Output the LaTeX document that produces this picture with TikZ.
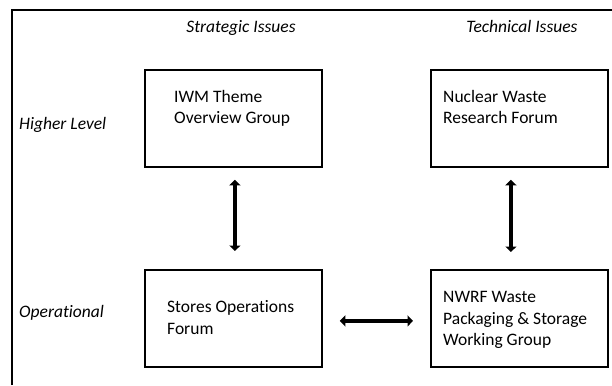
\documentclass[tikz,border=0pt]{standalone}
\usepackage{fontspec}
\setmainfont{Carlito}[RawFeature={-liga}]
\usetikzlibrary{arrows.meta}
\begin{document}
\begin{tikzpicture}[x=1pt,y=-1pt,
  box/.style={draw=black, line width=1.8pt, inner sep=0pt, anchor=north west, minimum width=177pt, minimum height=97pt},
  boxtext/.style={anchor=base west, align=left, inner sep=0pt, font=\fontsize{17.5pt}{21.5pt}\selectfont},
  lbl/.style={inner sep=0pt, font=\fontsize{17.5pt}{21.5pt}\selectfont\itshape},
  link/.style={line width=4.5pt, {Triangle[length=5.5pt,width=11pt]}-{Triangle[length=5.5pt,width=11pt]}}]
\useasboundingbox (0,0) rectangle (612,385);
\fill[white] (0,0) rectangle (612,385);
\draw[line width=1.8pt] (12,385) -- (12,10) -- (612,10);
\node[box] (iwm) at (144,69) {};
\node[box] (nwr) at (430,69) {};
\node[box] (sof) at (144,269) {};
\node[box] (nwf) at (430,269) {};
\node[boxtext] (iwmt) at (174,124) {IWM Theme\\Overview Group};
\node[boxtext] (nwrt) at (443,124) {Nuclear Waste\\Research Forum};
\node[boxtext] (soft) at (167,334) {Stores Operations\\Forum};
\node[boxtext] (nwft) at (443,345.5) {NWRF Waste\\Packaging \& Storage\\Working Group};
\node[lbl, anchor=base] (strat) at (241,32.5) {Strategic Issues};
\node[lbl, anchor=base] (tech) at (522,32.5) {Technical Issues};
\node[lbl, anchor=base west] (high) at (19,129) {Higher Level};
\node[lbl, anchor=base west] (oper) at (19,317.5) {Operational};
\draw[link, shorten <=12pt, shorten >=18pt] ([xshift=1.5pt]iwm.south) -- ([xshift=1.5pt]sof.north);
\draw[link, shorten <=12pt, shorten >=17pt] ([xshift=-8.5pt]nwr.south) -- ([xshift=-8.5pt]nwf.north);
\draw[link, shorten <=17pt, shorten >=17pt] ([yshift=-2.5pt]sof.east) -- ([yshift=-2.5pt]nwf.west);
\end{tikzpicture}
\end{document}
